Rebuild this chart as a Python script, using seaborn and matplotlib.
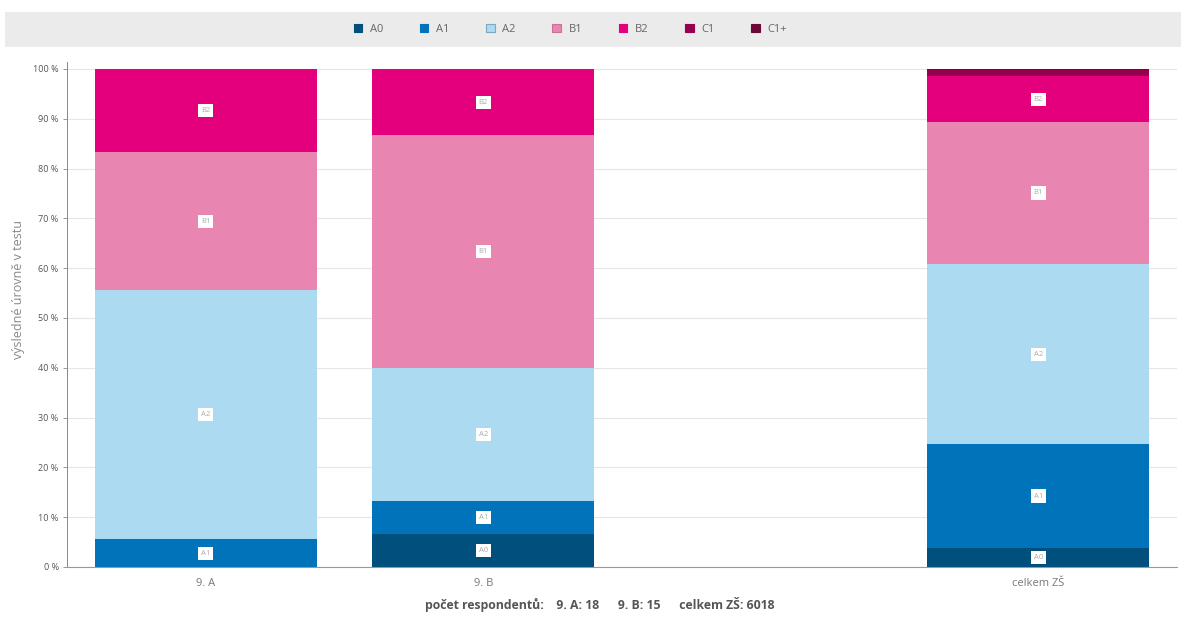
import pandas as pd
import matplotlib
matplotlib.use('Agg')
import matplotlib.pyplot as plt
import seaborn as sns
from matplotlib.patches import Rectangle, Patch

sns.set_style('white')
plt.rcParams['font.family'] = ['Open Sans', 'DejaVu Sans']

# data: podíly úrovní (%) pro jednotlivé třídy
tridy = ['9. A', '9. B', '', 'celkem ZŠ']
urovne = ['A0', 'A1', 'A2', 'B1', 'B2', 'C1', 'C1+']
hodnoty_9A = [0.0, 5.56, 50.0, 27.78, 16.66, 0.0, 0.0]
hodnoty_9B = [6.67, 6.67, 26.66, 46.67, 13.33, 0.0, 0.0]
hodnoty_celkem = [3.8, 20.9, 36.1, 28.6, 9.1, 1.2, 0.3]
barvy = ['#004f7d', '#0073bb', '#abdaf1', '#e886b1', '#e4007d', '#98004e', '#6b0838']
respondenti = {'9. A': 18, '9. B': 15, 'celkem ZŠ': 6018}

rows = []
for trida, vals in [('9. A', hodnoty_9A), ('9. B', hodnoty_9B), ('celkem ZŠ', hodnoty_celkem)]:
    cum = 0
    for lvl, v in zip(urovne, vals):
        rows.append({'trida': trida, 'uroven': lvl, 'hodnota': v, 'spodek': cum, 'kum': cum + v})
        cum += v
df = pd.DataFrame(rows)

fig = plt.figure(figsize=(11.81, 6.37), dpi=100)
# šedý pruh pro legendu
fig.patches.append(Rectangle((0.004, 1 - 47 / 637), 0.996, 35 / 637, transform=fig.transFigure,
                             facecolor='#ebebeb', edgecolor='none', zorder=0))
ax = fig.add_axes([67 / 1181, 1 - 567 / 637, 1110 / 1181, 505 / 637])

# stohované sloupce - kreslíme od nejvyšší kumulativní hodnoty
for lvl, barva in reversed(list(zip(urovne, barvy))):
    sub = df[df['uroven'] == lvl]
    sns.barplot(data=sub, x='trida', y='kum', order=tridy, color=barva, saturation=1,
                width=0.8, ax=ax, edgecolor='none', errorbar=None, zorder=2)

# popisky segmentů
pozice = {t: i for i, t in enumerate(tridy)}
for _, r in df.iterrows():
    if r['hodnota'] >= 3:
        ax.text(pozice[r['trida']], r['spodek'] + r['hodnota'] / 2, r['uroven'],
                ha='center', va='center', fontsize=5.5, color='#aaaaaa', zorder=5,
                bbox=dict(boxstyle='square,pad=0.4', facecolor='white', edgecolor='none'))

ax.set_xlim(-0.5, 3.5)
ax.set_ylim(0, 101.4)
ax.set_yticks(range(0, 101, 10))
ax.set_yticklabels([f'{v} %' for v in range(0, 101, 10)], fontsize=6.5, color='#555555')
ax.tick_params(axis='x', labelsize=8, colors='#777777', length=0, pad=8)
ax.tick_params(axis='y', length=3, width=0.6, color='#888888', left=True, pad=3)
ax.yaxis.grid(True, color='#e6e6e6', linewidth=0.8, zorder=0)
ax.set_axisbelow(True)
ax.set_xlabel('')
ax.set_ylabel('výsledné úrovně v testu', fontsize=9, color='#888888')
ax.yaxis.set_label_coords(-0.038, 0.55)
for s in ['top', 'right']:
    ax.spines[s].set_visible(False)
ax.spines['left'].set_color('#888888')
ax.spines['left'].set_linewidth(0.7)
ax.spines['bottom'].set_color('#999999')
ax.spines['bottom'].set_linewidth(0.8)

# legenda
handles = [Patch(facecolor=c, edgecolor=('#7aa9c0' if l == 'A2' else ('#c96f98' if l == 'B1' else c)),
                 linewidth=0.8, label=l) for l, c in zip(urovne, barvy)]
fig.legend(handles=handles, loc='center', bbox_to_anchor=(0.483, 1 - 29 / 637), ncol=7,
           frameon=False, fontsize=8, handlelength=0.75, handleheight=0.75,
           handletextpad=0.7, columnspacing=3.3, labelcolor='#666666')

# počet respondentů
txt = 'počet respondentů:    ' + '      '.join(f'{k}: {v}' for k, v in respondenti.items())
fig.text(600 / 1181, 1 - 605 / 637, txt, ha='center', va='center', fontsize=8.8,
         fontweight='bold', color='#555555')

fig.savefig('out.png', dpi=100)
